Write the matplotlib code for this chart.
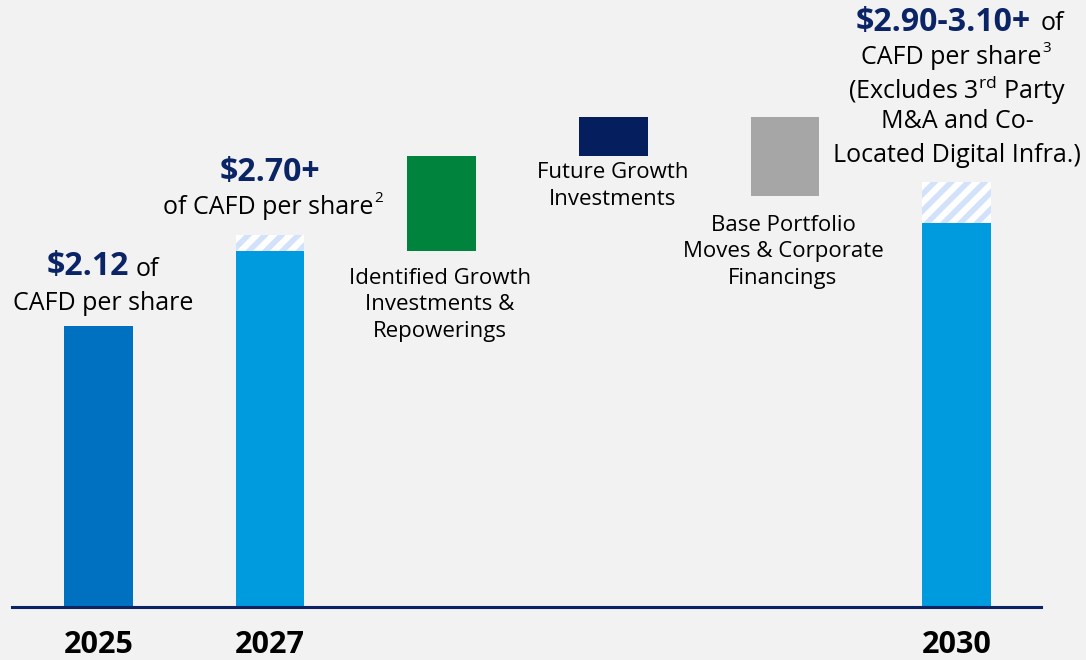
import matplotlib
matplotlib.use("Agg")
import matplotlib.pyplot as plt

# CAFD per share bridge (schematic values)
categories = ["2025", "2027", "Identified", "Future", "Base", "2030"]
bar_bottoms = [0, 0, 2.69, 3.40, 3.10, 0]
bar_tops = [2.12, 2.69, 3.40, 3.70, 3.70, 2.90]
bar_colors = ["#0070c0", "#009ade", "#00843d", "#041e5e", "#a6a6a6", "#009ade"]
# "+" upside shown as hatched caps on the 2027 and 2030 bars
hatch_idx = [1, 5]
hatch_tops = [2.81, 3.21]
year_labels = ["2025", "2027", "", "", "", "2030"]

plt.rcParams["font.family"] = ["Open Sans", "DejaVu Sans"]
plt.rcParams["mathtext.fontset"] = "custom"
plt.rcParams["mathtext.rm"] = "Open Sans"
plt.rcParams["mathtext.it"] = "Open Sans:italic"
plt.rcParams["mathtext.bf"] = "Open Sans:bold"
plt.rcParams["hatch.linewidth"] = 4

NAVY = "#0b2466"
BG = "#f2f2f2"

fig = plt.figure(figsize=(10.86, 6.6), dpi=100, facecolor=BG)
ax = fig.add_axes([0, 0, 1, 1])
ax.set_facecolor(BG)

x = list(range(len(categories)))
heights = [t - b for t, b in zip(bar_tops, bar_bottoms)]
ax.bar(x, heights, bottom=bar_bottoms, width=0.40, color=bar_colors, linewidth=0, zorder=2)

for i, top in zip(hatch_idx, hatch_tops):
    ax.bar(i, top - bar_tops[i], bottom=bar_tops[i], width=0.40, color="white",
           edgecolor="#d3e2fb", hatch="//", linewidth=0, zorder=2)

ax.set_xlim(-0.574, 5.755)
ax.set_ylim(-0.40, 4.581)
ax.axhline(0, xmin=(-0.504 + 0.574) / 6.329, xmax=(5.49 + 0.574) / 6.329,
           color="#0b2466", linewidth=2.2, zorder=3)
ax.axis("off")


def px(xp, yp):
    # pixel position in the 1086x660 picture -> figure fraction
    return xp / 1086, 1 - yp / 660


def put(xp, yp, s, **kw):
    fx, fy = px(xp, yp)
    return fig.text(fx, fy, s, va="center", **kw)


def sup(t, s):
    # small superscript stuck to the end of text t
    ax.annotate(s, xy=(1, 0.55), xycoords=t, xytext=(0.5, 0),
                textcoords="offset points", ha="left", va="bottom",
                fontsize=11, color="black")


# year labels under the axis
for i, lab in zip(x, year_labels):
    if lab:
        ax.text(i, -0.29, lab, ha="center", va="center", fontsize=22,
                fontweight="bold", color="black")

# 2025 label
put(129, 267, "\\$2.12", ha="right", fontsize=23, fontweight="bold", color=NAVY)
put(136, 269, "of", ha="left", fontsize=18, color="black")
put(103, 303, "CAFD per share", ha="center", fontsize=18, color="black")

# 2027 label
put(270, 172, "\\$2.70+", ha="center", fontsize=23, fontweight="bold", color=NAVY)
t2 = put(268, 207, "of CAFD per share", ha="center", fontsize=18, color="black")
sup(t2, "2")

# bridge labels
put(440, 305, "Identified Growth\nInvestments &\nRepowerings", ha="center",
    fontsize=16, color="black", linespacing=1.37, ma="center")
put(613, 186, "Future Growth\nInvestments", ha="center",
    fontsize=16, color="black", linespacing=1.37, ma="center")
put(783, 252, "Base Portfolio\nMoves & Corporate\nFinancings", ha="center",
    fontsize=16, color="black", linespacing=1.37, ma="center")

# 2030 label
put(1031, 22, "\\$2.90-3.10+", ha="right", fontsize=23, fontweight="bold", color=NAVY)
put(1041, 24, "of", ha="left", fontsize=18, color="black")
t3 = put(951, 57, "CAFD per share", ha="center", fontsize=18, color="black")
sup(t3, "3")
put(957, 90, "(Excludes 3$^{\\mathrm{rd}}$ Party", ha="center", fontsize=18, color="black")
put(957, 122, "M&A and Co-", ha="center", fontsize=18, color="black")
put(957, 155, "Located Digital Infra.)", ha="center", fontsize=18, color="black")

fig.savefig("out.png", dpi=100, facecolor=BG)
